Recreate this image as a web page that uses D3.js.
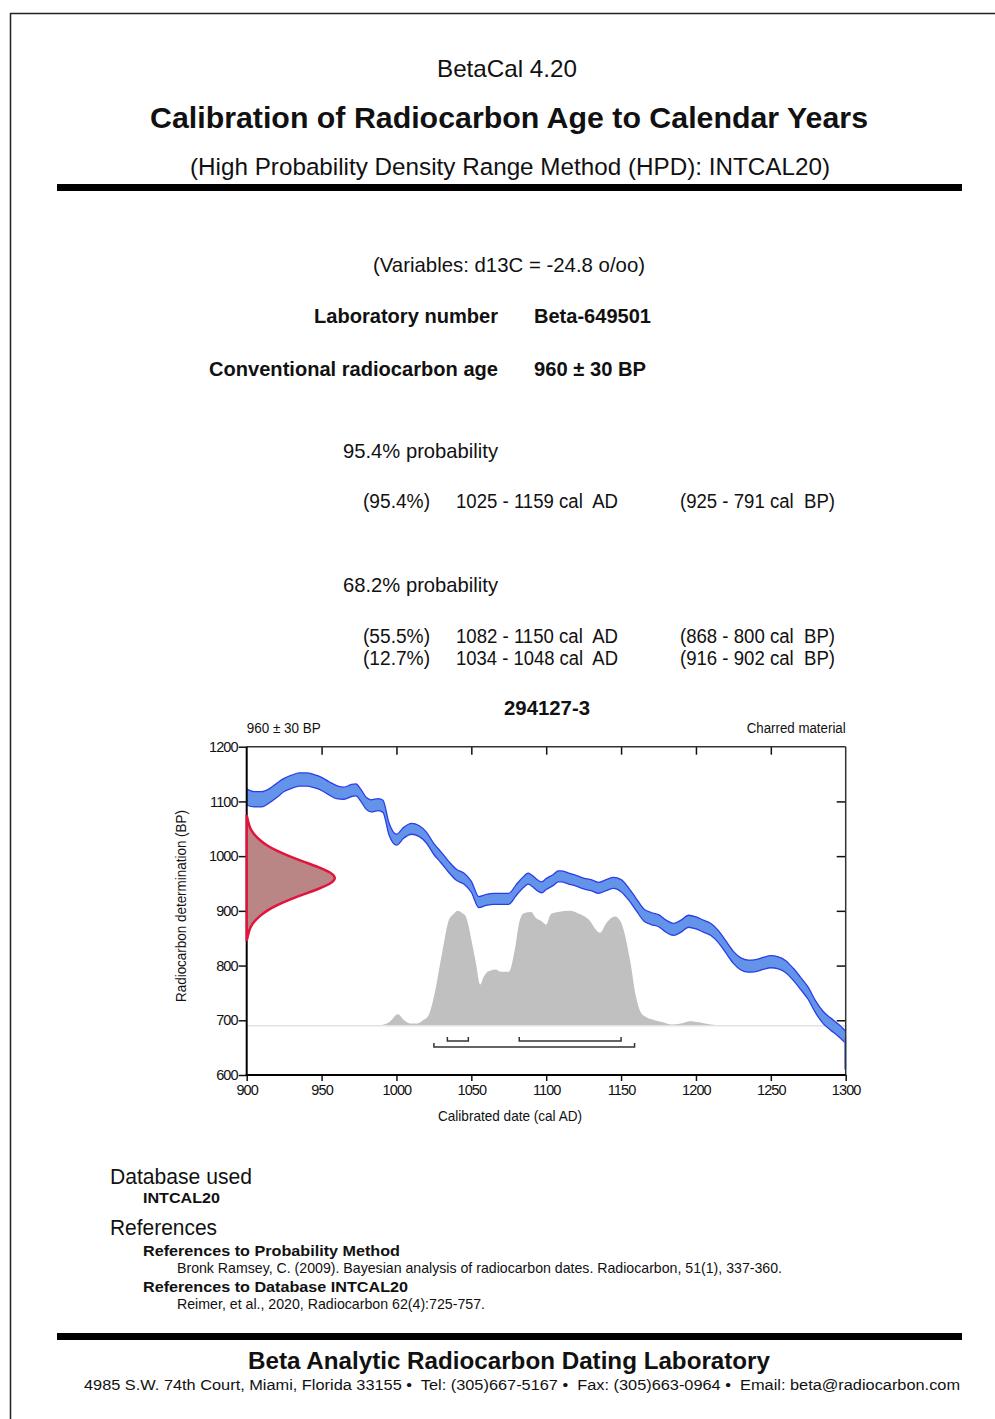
<!DOCTYPE html>
<html>
<head>
<meta charset="utf-8">
<script src="https://cdn.jsdelivr.net/npm/d3@7"></script>
<style>
  html, body { margin: 0; padding: 0; background: #fff; }
  svg { display: block; font-family: "Liberation Sans", Arial, sans-serif; }
  text { fill: #111; white-space: pre; }
</style>
</head>
<body>
<svg id="page" width="995" height="1419"></svg>
<script>
// ---------- DATA ----------
// Calibration curve (INTCAL20): calendar year AD, radiocarbon age BP (mid), half-width BP
const calYears = [900,905,910,915,920,925,930,935,940,945,950,955,960,965,970,973,976,980,983,988,991,995,1000,1005,1010,1015,1020,1025,1030,1035,1040,1045,1050,1055,1060,1065,1070,1075,1080,1085,1088,1090,1095,1097,1100,1105,1108,1110,1115,1120,1125,1130,1135,1140,1145,1150,1155,1160,1165,1170,1175,1180,1185,1190,1195,1200,1205,1210,1215,1220,1225,1230,1235,1240,1245,1250,1255,1260,1265,1270,1275,1280,1285,1290,1295,1300];
const calBP = [1108,1104,1104,1110,1120,1130,1136,1140,1140,1137,1132,1124,1117,1115,1120,1121,1112,1096,1092,1094,1091,1050,1030,1043,1050,1046,1034,1013,997,980,966,959,944,916,920,922,922,922,938,953,959,956,945,943,949,957,963,963,959,955,950,947,942,947,951,946,931,912,893,886,882,872,866,872,881,878,872,866,853,834,815,803,799,800,804,807,805,798,784,767,749,724,705,693,682,669];
const calErr = [15,14,14,13,13,12,12,12,12,12,12,12,12,11,11,11,11,11,11,11,11,11,10,10,10,10,10,10,10,10,10,10,10,10,10,10,10,10,10,10,10,10,10,10,10,10,10,10,10,10,10,10,10,10,10,11,11,11,11,11,11,11,11,11,11,11,11,11,11,11,11,11,11,11,11,11,11,11,11,11,11,11,11,11,11,11];
// clipped tail of the curve at the right edge (BP from / to)
const calEndTail = [669, 610];

// Calibrated probability distribution (relative)
const probYears = [988,995,1001,1005,1009,1014,1018,1021,1025,1030,1035,1038,1041,1044,1046,1048,1050,1053,1056,1058,1060,1063,1066,1070,1075,1079,1082,1085,1090,1093,1097,1100,1103,1108,1116,1121,1128,1136,1140,1146,1150,1152,1156,1160,1163,1166,1172,1178,1184,1190,1196,1202,1210,1220];
const probValues = [0,0.03,0.10,0.05,0.02,0.02,0.05,0.08,0.25,0.60,0.92,0.97,1.00,0.98,0.96,0.88,0.75,0.55,0.36,0.42,0.46,0.48,0.49,0.47,0.47,0.66,0.90,0.98,0.99,0.94,0.91,0.88,0.97,0.99,1.00,0.98,0.93,0.81,0.89,0.95,0.90,0.82,0.57,0.25,0.12,0.08,0.05,0.03,0.01,0.02,0.04,0.03,0.01,0];

// Measured radiocarbon age distribution (960 ± 30 BP)
const dateBP = [1075,1060,1050,1040,1030,1020,1010,1000,990,980,970,960,950,940,930,920,910,900,890,880,870,860,845];
const dateDensity = [0,0.02,0.04,0.08,0.14,0.22,0.33,0.47,0.63,0.80,0.94,1.0,0.94,0.80,0.63,0.47,0.33,0.22,0.14,0.08,0.04,0.02,0];

// HPD ranges
const hpd95 = [[1025,1159]];
const hpd68 = [[1082,1150],[1034,1048]];

// Axis ticks
const xTicks = [900,950,1000,1050,1100,1150,1200,1250,1300];
const yTicks = [600,700,800,900,1000,1100,1200];
const topTicks = [950,1000,1050,1100,1150,1200,1250];
const rightTicks = [700,800,900,1000,1100];

// Result table
const sigma95Rows = [["(95.4%)","1025 - 1159 cal  AD","(925 - 791 cal  BP)"]];
const sigma68Rows = [["(55.5%)","1082 - 1150 cal  AD","(868 - 800 cal  BP)"],["(12.7%)","1034 - 1048 cal  AD","(916 - 902 cal  BP)"]];

// ---------- DRAW ----------
const svg = d3.select("#page");

// page border
svg.append("line").attr("x1",10.5).attr("x2",10.5).attr("y1",13).attr("y2",1419).attr("stroke","#222").attr("stroke-width",1.5);
svg.append("line").attr("x1",10).attr("x2",995).attr("y1",13.5).attr("y2",13.5).attr("stroke","#222").attr("stroke-width",1.5);

function txt(x, y, s, opts = {}) {
  const t = svg.append("text").attr("x", x).attr("y", y).text(s)
    .attr("font-size", opts.size || 20)
    .attr("font-weight", opts.weight || "normal")
    .attr("text-anchor", opts.anchor || "start");
  if (opts.len) t.attr("textLength", opts.len).attr("lengthAdjust", "spacingAndGlyphs");
  return t;
}

// header
txt(507, 77, "BetaCal 4.20", {size: 24, anchor: "middle", len: 140});
txt(509, 128, "Calibration of Radiocarbon Age to Calendar Years", {size: 30, weight: "bold", anchor: "middle", len: 718});
txt(510, 175, "(High Probability Density Range Method (HPD): INTCAL20)", {size: 24.5, anchor: "middle", len: 640});
svg.append("rect").attr("x",57).attr("y",184).attr("width",905).attr("height",7).attr("fill","#000");

txt(509, 272, "(Variables: d13C = -24.8 o/oo)", {size: 21, anchor: "middle", len: 272});
txt(498, 323, "Laboratory number", {size: 21, weight: "bold", anchor: "end", len: 184});
txt(534, 323, "Beta-649501", {size: 21, weight: "bold", len: 117});
txt(498, 376, "Conventional radiocarbon age", {size: 21, weight: "bold", anchor: "end", len: 289});
txt(534, 376, "960 ± 30 BP", {size: 21, weight: "bold", len: 112});

txt(343, 458, "95.4% probability", {size: 21, len: 155});
sigma95Rows.forEach((r, i) => {
  const y = 508 + i * 22;
  txt(363, y, r[0], {size: 20, len: 67});
  txt(456, y, r[1], {size: 20, len: 162});
  txt(680, y, r[2], {size: 20, len: 155});
});
txt(343, 592, "68.2% probability", {size: 21, len: 155});
sigma68Rows.forEach((r, i) => {
  const y = 643 + i * 22;
  txt(363, y, r[0], {size: 20, len: 67});
  txt(456, y, r[1], {size: 20, len: 162});
  txt(680, y, r[2], {size: 20, len: 155});
});

// ---------- CHART ----------
const x = d3.scaleLinear().domain([900, 1300]).range([246.7, 845.7]);
const y = d3.scaleLinear().domain([600, 1200]).range([1075, 746.7]);
const probY = d3.scaleLinear().domain([0, 1]).range([y(690), y(900)]);
const densX = d3.scaleLinear().domain([0, 1]).range([x(900), x(960)]);

txt(547, 715, "294127-3", {size: 20, weight: "bold", anchor: "middle", len: 86});
txt(x(900), 733, "960 ± 30 BP", {size: 14, len: 74});
txt(x(1300), 733, "Charred material", {size: 14, anchor: "end", len: 99});

const g = svg.append("g");

// probability distribution (grey)
const probData = probYears.map((yr, i) => ({yr, p: probValues[i]}));
g.append("path").datum(probData)
  .attr("d", d3.area().x(d => x(d.yr)).y0(probY(0)).y1(d => probY(d.p)).curve(d3.curveMonotoneX))
  .attr("fill", "#c0c0c0");
g.append("line").attr("x1", x(900)).attr("x2", x(1300)).attr("y1", probY(0)).attr("y2", probY(0))
  .attr("stroke", "#e2e2e2").attr("stroke-width", 1.5);

// calibration curve band (blue)
const calData = calYears.map((yr, i) => ({yr, bp: calBP[i], e: calErr[i]}));
g.append("path").datum(calData)
  .attr("d", d3.area().x(d => x(d.yr)).y0(d => y(d.bp - d.e)).y1(d => y(d.bp + d.e)).curve(d3.curveMonotoneX))
  .attr("fill", "#6494ea");
["+", "-"].forEach(s => {
  g.append("path").datum(calData)
    .attr("d", d3.line().x(d => x(d.yr)).y(d => y(s === "+" ? d.bp + d.e : d.bp - d.e)).curve(d3.curveMonotoneX))
    .attr("fill", "none").attr("stroke", "#2b3ee6").attr("stroke-width", 1.3);
});
g.append("line").attr("x1", x(1300) - 0.5).attr("x2", x(1300) - 0.5)
  .attr("y1", y(calEndTail[0])).attr("y2", y(calEndTail[1]))
  .attr("stroke", "#5a7ff0").attr("stroke-width", 2);

// HPD brackets
function bracket(r, bp) {
  const yy = y(bp);
  g.append("path")
    .attr("d", `M${x(r[0])},${yy - 4}V${yy}H${x(r[1])}V${yy - 4}`)
    .attr("fill", "none").attr("stroke", "#333").attr("stroke-width", 1.5);
}
hpd95.forEach(r => bracket(r, 651));
hpd68.forEach(r => bracket(r, 662));

// axes
const axL = svg.append("g").attr("transform", `translate(${x(900)},0)`)
  .call(d3.axisLeft(y).tickValues(yTicks).tickSize(8).tickPadding(1).tickFormat(d3.format("d")));
const axB = svg.append("g").attr("transform", `translate(0,${y(600)})`)
  .call(d3.axisBottom(x).tickValues(xTicks).tickSize(6).tickPadding(4).tickFormat(d3.format("d")));
const axT = svg.append("g").attr("transform", `translate(0,${y(1200)})`)
  .call(d3.axisTop(x).tickValues(topTicks).tickSize(-8).tickFormat(""));
const axR = svg.append("g").attr("transform", `translate(${x(1300)},0)`)
  .call(d3.axisRight(y).tickValues(rightTicks).tickSize(-9).tickFormat(""));
[axL, axB, axT, axR].forEach(a => {
  a.select(".domain").remove();
  a.selectAll(".tick line").attr("stroke", "#111").attr("stroke-width", 1.5);
  a.selectAll(".tick text").attr("font-size", 14.5).attr("fill", "#111")
    .attr("font-family", '"Liberation Sans", Arial, sans-serif').attr("letter-spacing", -0.9);
});
svg.append("line").attr("x1", x(900)).attr("x2", x(1300)).attr("y1", y(1200)).attr("y2", y(1200)).attr("stroke", "#333").attr("stroke-width", 1.5);
svg.append("line").attr("x1", x(1300)).attr("x2", x(1300)).attr("y1", y(1200)).attr("y2", y(600)).attr("stroke", "#333").attr("stroke-width", 1.5);
svg.append("line").attr("x1", x(900)).attr("x2", x(900)).attr("y1", y(1200)).attr("y2", y(600)).attr("stroke", "#000").attr("stroke-width", 2);
svg.append("line").attr("x1", x(900) - 1).attr("x2", x(1300)).attr("y1", y(600)).attr("y2", y(600)).attr("stroke", "#000").attr("stroke-width", 2);

// measured date distribution (red), drawn over the left axis
const dateData = dateBP.map((bp, i) => ({bp, d: dateDensity[i]}));
svg.append("path").datum(dateData)
  .attr("d", d3.area().y(d => y(d.bp)).x0(densX(0)).x1(d => densX(d.d)).curve(d3.curveBasis))
  .attr("fill", "#b98585").attr("stroke", "#e0143c").attr("stroke-width", 2.5);

// axis titles
txt(510, 1121, "Calibrated date (cal AD)", {size: 14.5, anchor: "middle", len: 144});
svg.append("text").attr("transform", "translate(186,906) rotate(-90)")
  .attr("text-anchor", "middle").attr("font-size", 14.5).attr("textLength", 192).attr("lengthAdjust", "spacingAndGlyphs")
  .text("Radiocarbon determination (BP)");

// ---------- FOOTER ----------
txt(110, 1184, "Database used", {size: 22, len: 142});
txt(143, 1203, "INTCAL20", {size: 15.5, weight: "bold", len: 77});
txt(110, 1235, "References", {size: 22, len: 107});
txt(143, 1256, "References to Probability Method", {size: 15.5, weight: "bold", len: 257});
txt(177, 1273, "Bronk Ramsey, C. (2009). Bayesian analysis of radiocarbon dates. Radiocarbon, 51(1), 337-360.", {size: 14.5, len: 605});
txt(143, 1292, "References to Database INTCAL20", {size: 15.5, weight: "bold", len: 265});
txt(177, 1309, "Reimer, et al., 2020, Radiocarbon 62(4):725-757.", {size: 14.5, len: 308});

svg.append("rect").attr("x",57).attr("y",1333).attr("width",905).attr("height",7).attr("fill","#000");
txt(509, 1369, "Beta Analytic Radiocarbon Dating Laboratory", {size: 24, weight: "bold", anchor: "middle", len: 522});
txt(522, 1390, "4985 S.W. 74th Court, Miami, Florida 33155 •  Tel: (305)667-5167 •  Fax: (305)663-0964 •  Email: beta@radiocarbon.com", {size: 15.5, anchor: "middle", len: 876});
</script>
</body>
</html>
